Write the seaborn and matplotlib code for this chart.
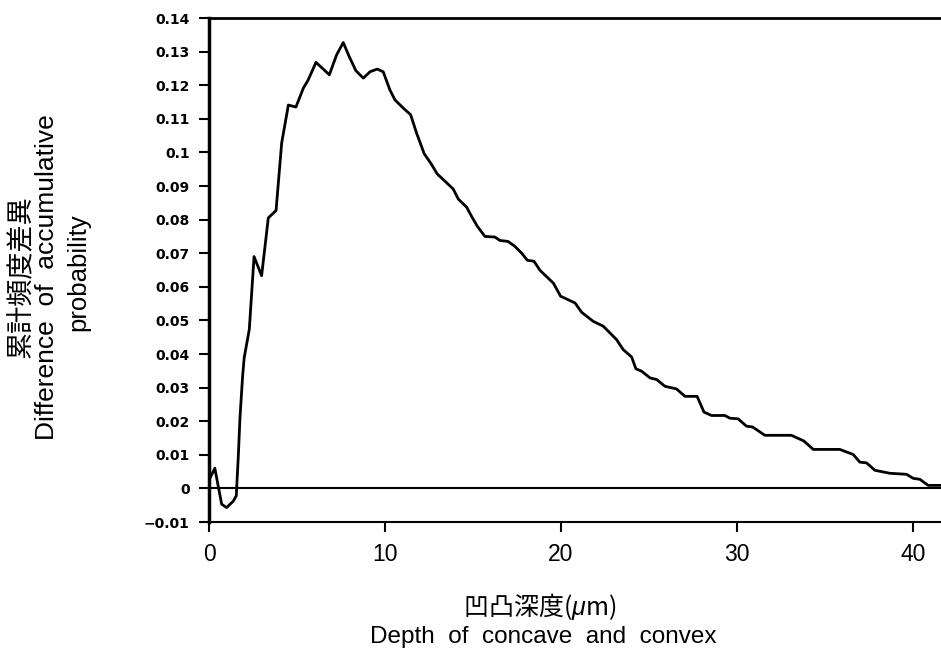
import matplotlib
matplotlib.use("Agg")
import matplotlib.pyplot as plt
import seaborn as sns
import pandas as pd

# ---- data ----
depth = [0.05, 0.33, 0.72, 1.0, 1.38, 1.55, 1.67, 1.76, 1.91, 2.0, 2.29, 2.56, 2.99,
         3.37, 3.81, 4.13, 4.51, 4.94, 5.36, 5.64, 6.08, 6.84, 7.25, 7.63, 7.97, 8.35,
         8.77, 9.15, 9.56, 9.9, 10.28, 10.57, 11.04, 11.46, 11.8, 12.23, 12.6, 12.97,
         13.88, 14.17, 14.64, 14.92, 15.25, 15.68, 16.25, 16.53, 17.0, 17.39, 17.77,
         18.09, 18.47, 18.81, 19.57, 19.98, 20.8, 21.18, 21.84, 22.4, 23.16, 23.54,
         24.02, 24.26, 24.58, 25.06, 25.44, 25.91, 26.57, 27.05, 27.74, 28.13, 28.56,
         29.32, 29.6, 30.07, 30.55, 30.89, 31.59, 33.1, 33.81, 34.34, 35.85, 36.61,
         36.99, 37.37, 37.84, 38.69, 39.64, 40.02, 40.4, 40.87, 41.6]
diff_prob = [0.003, 0.006, -0.0047, -0.0057, -0.0038, -0.0022, 0.0101, 0.021, 0.0334,
             0.0389, 0.0473, 0.069, 0.0633, 0.0805, 0.0827, 0.1028, 0.1141, 0.1135,
             0.1191, 0.1216, 0.1268, 0.1231, 0.129, 0.1327, 0.1285, 0.1243, 0.1221,
             0.124, 0.1248, 0.124, 0.1186, 0.1156, 0.1132, 0.1112, 0.1057, 0.0996,
             0.0968, 0.0936, 0.0891, 0.0861, 0.0837, 0.081, 0.078, 0.075, 0.0748,
             0.0738, 0.0735, 0.072, 0.07, 0.0679, 0.0676, 0.0649, 0.0611, 0.0572,
             0.0552, 0.0524, 0.0497, 0.0483, 0.0443, 0.0413, 0.0391, 0.0356, 0.0349,
             0.0329, 0.0324, 0.0304, 0.0296, 0.0274, 0.0274, 0.0227, 0.0217, 0.0217,
             0.0209, 0.0207, 0.0185, 0.0183, 0.0158, 0.0158, 0.0141, 0.0116, 0.0116,
             0.0101, 0.0078, 0.0076, 0.0054, 0.0045, 0.0042, 0.003, 0.0027, 0.0009,
             0.0009]
x_ticks = [0, 10, 20, 30, 40]
x_tick_labels = ["0", "10", "20", "30", "40"]
y_ticks = [-0.01, 0, 0.01, 0.02, 0.03, 0.04, 0.05, 0.06, 0.07, 0.08, 0.09, 0.10,
           0.11, 0.12, 0.13, 0.14]
y_tick_labels = ["\u22120.01", "0", "0.01", "0.02", "0.03", "0.04", "0.05", "0.06",
                 "0.07", "0.08", "0.09", "0.1", "0.11", "0.12", "0.13", "0.14"]
xlabel_jp = "凹凸深度($\\mu$m)"
xlabel_en = "Depth  of  concave  and  convex"
ylabel_jp = "累計頻度差異"
ylabel_en1 = "Difference  of  accumulative"
ylabel_en2 = "probability"

df = pd.DataFrame({"depth": depth, "diff": diff_prob})

sns.set_style("ticks")
plt.rcParams["font.family"] = ["Liberation Sans", "Noto Sans CJK JP", "DejaVu Sans"]
plt.rcParams["mathtext.fontset"] = "custom"
plt.rcParams["mathtext.it"] = "Liberation Sans:italic"
plt.rcParams["mathtext.rm"] = "Liberation Sans"
for key in ["text.color", "axes.labelcolor", "xtick.color", "ytick.color",
            "axes.edgecolor"]:
    plt.rcParams[key] = "black"

W, H = 941, 657
fig = plt.figure(figsize=(W / 100, H / 100), dpi=100)
ax = fig.add_axes([209 / W, 1 - 522 / H, (W - 209) / W, (522 - 18) / H])

sns.lineplot(data=df, x="depth", y="diff", color="black", linewidth=2.0,
             estimator=None, sort=False, ax=ax)
ax.axhline(0, color="black", linewidth=1.5, zorder=1)

ax.set_xlim(0, 41.6)
ax.set_ylim(-0.01, 0.14)
ax.set_xticks(x_ticks)
ax.set_xticklabels(x_tick_labels, fontsize=16.5, family=["Liberation Sans"])
ax.set_yticks(y_ticks)
ax.set_yticklabels(y_tick_labels, fontsize=10, fontweight="bold",
                   family=["DejaVu Sans"])
ax.tick_params(axis="y", direction="out", length=7, width=1.5, pad=7,
               colors="black")
ax.tick_params(axis="x", direction="out", length=7, width=1.5, pad=8,
               colors="black")
ax.set_xlabel("")
ax.set_ylabel("")

ax.spines["right"].set_visible(False)
ax.spines["left"].set_linewidth(2.5)
ax.spines["top"].set_linewidth(2.0)
ax.spines["bottom"].set_linewidth(1.5)
for s in ax.spines.values():
    s.set_color("black")

# x axis label (two lines)
fig.text(540 / W, 1 - 607 / H, xlabel_jp, ha="center", va="center", fontsize=18,
         family=["Noto Sans CJK JP", "Liberation Sans"])
fig.text(543 / W, 1 - 637 / H, xlabel_en, ha="center", va="center", fontsize=17.5)

# y axis label (three rotated lines)
fig.text(21 / W, 1 - 277 / H, ylabel_jp, rotation=90, ha="center", va="center",
         fontsize=19.5, family=["Noto Sans CJK JP", "Liberation Sans"])
fig.text(47 / W, 1 - 277 / H, ylabel_en1, rotation=90, ha="center", va="center",
         fontsize=19)
fig.text(78 / W, 1 - 272 / H, ylabel_en2, rotation=90, ha="center", va="center",
         fontsize=18.5)

fig.savefig("out.png", dpi=100)
